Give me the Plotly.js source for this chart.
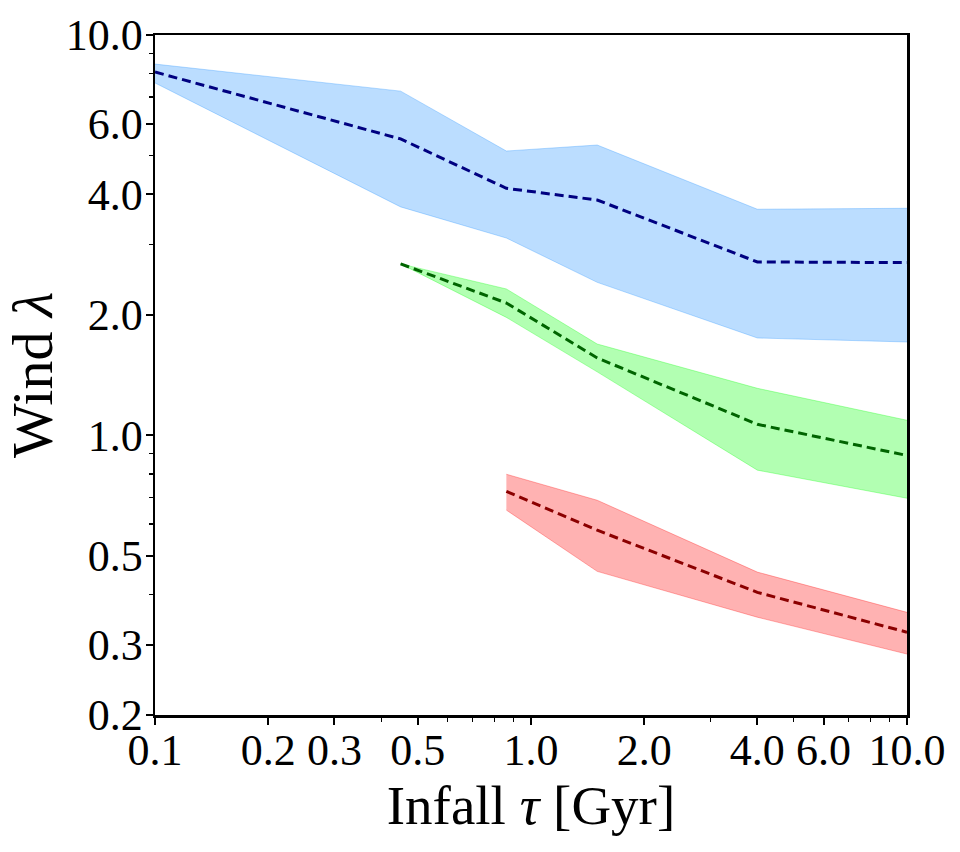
<!DOCTYPE html>
<html>
<head>
<meta charset="utf-8">
<script src="https://cdn.plot.ly/plotly-3.0.1.min.js"></script>
<style>
  html, body { margin: 0; padding: 0; background: #fff; }
  #chart { width: 960px; height: 852px; }
</style>
</head>
<body>
<div id="chart"></div>
<script>
// infall timescale [Gyr] and wind mass-loading
let tauBlue  = [0.1, 0.45, 0.86, 1.5, 4.0, 10.0];
let medBlue  = [8.08, 5.5, 4.14, 3.87, 2.71, 2.70];
let hiBlue   = [8.46, 7.24, 5.13, 5.31, 3.67, 3.69];
let loBlue   = [7.59, 3.72, 3.11, 2.41, 1.75, 1.71];

let tauGreen = [0.45, 0.86, 1.5, 4.0, 10.0];
let medGreen = [2.68, 2.14, 1.56, 1.065, 0.89];
let hiGreen  = [2.68, 2.32, 1.69, 1.31, 1.09];
let loGreen  = [2.68, 1.97, 1.44, 0.818, 0.696];

let tauRed   = [0.86, 1.5, 4.0, 10.0];
let medRed   = [0.724, 0.579, 0.405, 0.322];
let hiRed    = [0.799, 0.688, 0.455, 0.361];
let loRed    = [0.65, 0.457, 0.351, 0.284];

let xTicks = [0.1, 0.2, 0.3, 0.5, 1, 2, 4, 6, 10];
let xTickText = ['0.1', '0.2', '0.3', '0.5', '1.0', '2.0', '4.0', '6.0', '10.0'];
let yTicks = [0.2, 0.3, 0.5, 1, 2, 4, 6, 10];
let yTickText = ['0.2', '0.3', '0.5', '1.0', '2.0', '4.0', '6.0', '10.0'];
let minorTicks = [0.4, 0.6, 0.7, 0.8, 0.9, 3, 5, 7, 8, 9];

let serif = 'Liberation Serif, DejaVu Serif, serif';

function band(x, lo, hi, med, fill, edge, lineColor) {
  return [
    { x: x, y: lo, mode: 'lines', line: { color: edge, width: 1 }, hoverinfo: 'skip', showlegend: false },
    { x: x, y: hi, mode: 'lines', fill: 'tonexty', fillcolor: fill,
      line: { color: edge, width: 1 }, hoverinfo: 'skip', showlegend: false },
    { x: x, y: med, mode: 'lines', line: { color: lineColor, width: 3, dash: '9px,5px' }, showlegend: false }
  ];
}

let traces = []
  .concat(band(tauBlue, loBlue, hiBlue, medBlue, 'rgba(30,144,255,0.3)', 'rgba(30,144,255,0.3)', '#000080'))
  .concat(band(tauGreen, loGreen, hiGreen, medGreen, 'rgba(0,255,0,0.3)', 'rgba(0,255,0,0.3)', '#006400'))
  .concat(band(tauRed, loRed, hiRed, medRed, 'rgba(255,0,0,0.3)', 'rgba(255,0,0,0.3)', '#8B0000'));

let axisCommon = {
  type: 'log',
  showgrid: false,
  zeroline: false,
  showline: true,
  linecolor: '#000',
  linewidth: 2.5,
  mirror: true,
  ticks: 'outside',
  ticklen: 7,
  tickwidth: 2,
  tickcolor: '#000',
  tickmode: 'array',
  tickfont: { family: serif, size: 44, color: '#000' },
  minor: { ticks: 'outside', ticklen: 4, tickwidth: 1.2, tickcolor: '#000', tickmode: 'array', tickvals: minorTicks, showgrid: false }
};

let layout = {
  width: 960,
  height: 852,
  margin: { l: 155, r: 53, t: 35, b: 137 },
  paper_bgcolor: '#fff',
  plot_bgcolor: '#fff',
  xaxis: Object.assign({}, axisCommon, {
    range: [-1, 1],
    tickvals: xTicks,
    ticktext: xTickText,
    ticklabelstandoff: -12,
    title: { text: 'Infall <i>τ</i> [Gyr]', font: { family: serif, size: 55, color: '#000' }, standoff: 8 }
  }),
  yaxis: Object.assign({}, axisCommon, {
    range: [Math.log10(0.2), 1],
    tickvals: yTicks,
    ticktext: yTickText,
    ticklabelstandoff: -6,
    title: { text: 'Wind <i>λ</i>', font: { family: serif, size: 58, color: '#000' }, standoff: 14 }
  })
};

Plotly.newPlot('chart', traces, layout, { staticPlot: true });
</script>
</body>
</html>
